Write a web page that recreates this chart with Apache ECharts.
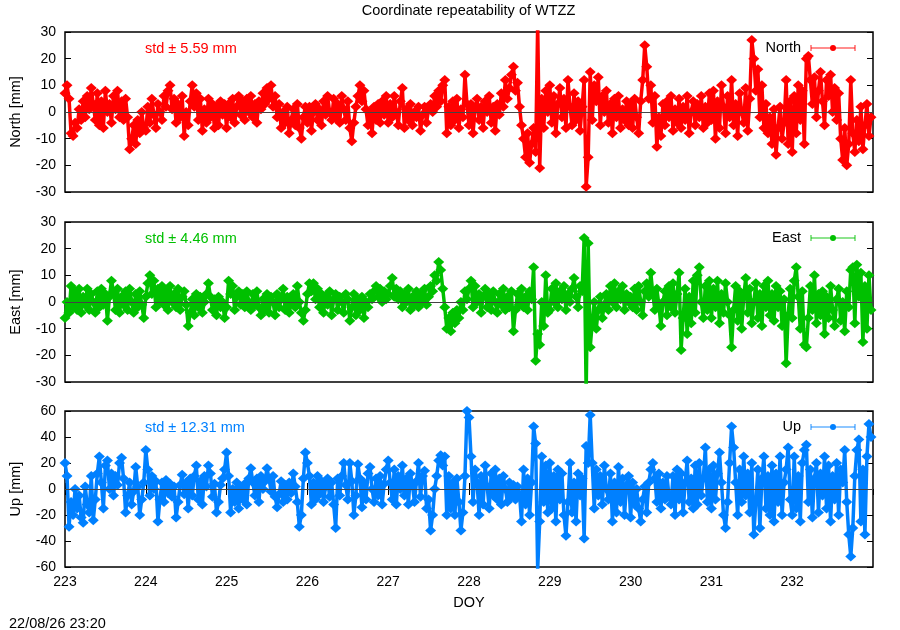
<!DOCTYPE html>
<html>
<head>
<meta charset="utf-8">
<title>Coordinate repeatability of WTZZ</title>
<script src="https://cdn.jsdelivr.net/npm/echarts@6/dist/echarts.min.js"></script>
<style>
  html, body { margin: 0; padding: 0; background: #fff; }
  #chart { width: 900px; height: 630px; }
</style>
</head>
<body>
<div id="chart"></div>
<script>
// Epochs: one value every 0.025 day from DOY 223.0 (40 values per line = one day)
const doyStart = 223;
const doyStep = 0.025;

const north = [
  7, 10, 5, -8, -9, -4, -6, 1, -3, 4, -2, 6, 1, 9, 3, -3, 7, -5, 4, -6, 8, 0, 3, -4, 6, 1, 8, -2, 4, -3, 5, -2, -14, -10, -5, -12, -3, -8, 0, -6,
  -7, 2, -4, 5, -1, -6, 3, 0, -3, 6, 2, 8, 10, 1, 5, -4, 3, -2, 6, -9, 0, -5, 4, 10, 2, 7, -3, 5, -7, 1, -4, 5, -2, 3, -6, 2, -5, 4, -1, 3,
  -6, 3, -2, 5, -4, 2, 6, -1, 4, -3, 5, 0, 6, -2, 3, -4, 4, 1, 7, 3, 9, 5, 10, 2, 6, -2, 3, -6, 0, -4, 2, -8, -3, 1, -5, 3, -6, -10, -2, 2,
  -4, 2, -7, 0, 3, -3, 1, -5, 4, -1, 6, 0, -3, 5, -2, 3, -4, 6, 1, -3, 4, -6, -11, -4, 2, 6, 10, 4, 8, 1, -5, 0, -8, 2, -3, 3, -4, 4, -1, 6,
  -4, 3, -2, 6, 0, -5, 4, 9, -6, 1, -3, 3, -5, 0, -2, 2, -7, -1, 2, -4, 1, 3, 0, 6, 2, 8, 4, 10, 12, -8, 2, -5, 4, -3, 5, -6, 1, -2, 14, 3,
  -5, 3, -8, 1, 5, -3, 2, -6, 4, 0, 6, -4, 2, -7, 3, -1, 7, 2, 12, 5, 9, 14, 17, 8, 11, 2, -5, -10, -17, -8, -19, -12, -6, -15, 33, -21, 5, -6, 8, 0,
  10, -4, 6, -8, 3, 9, -2, 5, -6, 12, 2, -5, 7, -3, 4, -7, 2, 12, -28, -17, 15, -3, 10, 4, 13, -5, 6, 0, 8, -4, 3, -8, 5, -2, 6, -6, 1, -3, 4, -5,
  3, -6, 5, -2, -8, 4, 12, 25, 17, 5, 10, -4, 6, -13, -2, -9, 3, -5, 4, -2, 6, -7, 1, -4, 5, -6, 2, -3, 6, -8, 0, 4, -5, 3, -2, 6, -6, 2, -4, 7,
  -3, 8, -10, 4, -6, 10, 2, -8, 6, -2, 12, -5, 3, -9, 7, 0, -4, 9, -7, 5, 27, 20, 8, 16, -2, 10, -6, 3, -8, -2, -12, 1, -16, -6, 2, -10, -4, 12, -12, 4,
  -15, 6, -8, 10, -3, 8, -12, 20, 21, 12, 3, 13, -2, 8, 15, 4, -5, 12, 6, 14, 0, 9, -3, 7, -10, -18, -6, -20, -12, 12, -8, -15, -3, -11, 2, -14, -5, 3, -9, -2
];

const east = [
  -6, 0, -4, 6, -2, 4, -3, 5, -4, 2, -1, 5, -3, 3, 0, -4, 4, -2, 5, -1, 3, -7, 2, 8, 4, -3, 5, -4, 2, -1, 4, -3, 5, 0, -4, 3, -2, 4, -1, -6,
  2, 7, 10, 3, 8, -2, 5, 0, 6, -1, 4, -3, 6, 0, 3, -2, 5, -3, 2, 4, -1, -9, -4, 1, -5, 3, -2, 2, -4, 0, 3, 7, 2, -3, 1, -5, 2, -2, 0, -6,
  -2, 8, 3, 6, -3, 2, 4, -1, 3, -2, 4, 0, -3, 3, -1, 4, -2, -5, 1, -3, 3, -4, 2, 0, -5, 3, -2, 1, 5, -3, 2, -4, 0, 3, -2, 6, 0, -4, -7, -3,
  3, 7, 4, 7, 1, 5, -2, 3, -4, 2, -1, 4, -5, 1, 3, -3, 2, 0, -4, 3, 1, -7, -2, 3, -5, 1, -3, 2, -6, 0, -2, 3, 1, 4, 6, 2, 5, 0, 4, 1,
  3, 6, 9, 2, 5, 1, 4, -2, 3, 0, 5, -3, 2, -1, 4, -2, 3, 0, 5, -1, 2, 6, 4, 10, 8, 15, 12, 5, -2, -10, -6, -11, -4, -8, -3, -6, 0, -3, 4, 1,
  5, 8, -2, 6, 0, 3, -4, 2, 5, -2, 3, -3, 4, 0, -4, 3, -1, 5, -3, 2, -2, 4, -11, -3, 3, -1, 5, -2, 2, -3, 4, 1, 13, -22, -12, -16, 0, -9, 10, -4,
  -3, 5, 0, 7, -2, 4, 1, 6, -3, 3, 0, 5, 9, 2, -2, 6, 4, 24, -34, 22, -17, -8, 0, -10, -3, 2, -6, -1, 3, -3, 6, 0, 7, -2, 4, 1, 6, -3, 3, 0,
  2, -2, 5, -3, 6, 0, -5, 4, 7, 2, 11, 3, -3, 5, -1, -9, 0, 4, -5, 6, -2, 7, -4, 3, 11, -18, -6, 5, -12, 2, -8, 8, -4, 10, 13, 0, -6, 6, -3, 8,
  -6, 5, -2, 8, -8, 3, -4, 7, 0, -5, -17, -3, 6, -7, 4, -10, 2, 9, -4, 5, -8, 0, 7, -6, 3, -9, 6, -2, 8, -5, 3, -7, 6, -2, 4, -9, 1, -23, -5, 5,
  -6, 8, 13, 2, -10, 4, -16, -17, -6, 6, -3, 10, -8, 3, -5, 4, -12, 2, -6, 6, -3, -9, 1, 5, -7, 0, -11, 4, -2, 12, 13, -8, 14, 2, 11, -15, 6, -10, 10, -3
];

const up = [
  20, 10, -29, -10, -20, 0, -15, -5, -22, -26, 2, -12, -18, 10, -24, -8, 12, 25, 5, -15, 18, 22, 0, 12, -5, 10, 3, 20, 24, 8, -18, -5, 5, -12, -2, 17, 2, -20, -8, 5,
  30, 15, -5, 10, 0, 6, -25, -8, 5, -10, 7, -3, 4, -6, 2, -22, -10, 3, 11, -4, 5, -15, 8, -5, 10, 18, -8, 6, -12, 10, 2, 18, 12, -6, 4, -18, -10, 3, 8, 15,
  28, 10, -18, 0, -10, 5, -15, 2, -8, 4, -12, 8, 16, 5, -5, 8, -10, 10, 0, 6, 16, 8, -2, 10, -6, -14, -4, 6, -10, 3, -8, 5, -3, 12, 2, -10, -29, -20, 8, 28,
  20, 10, -12, 5, -8, 10, -4, 6, -10, 2, 8, -6, 5, -12, -30, 8, -5, 10, 20, 3, -8, 20, 6, -20, -5, 19, 8, -14, 5, -8, 12, 17, 0, -10, 8, -5, 10, -12, 4, 15,
  22, 5, -8, 15, -12, 10, 0, 18, -5, 8, -12, 12, 3, -10, 6, 20, -6, 10, 14, -15, -8, -32, -20, 0, 10, 22, 26, 18, 25, -20, 10, -15, 5, -20, 8, -10, -32, -18, 10, 60,
  55, 25, -10, 15, 5, -20, 10, -12, 18, 2, -15, 12, -5, 15, -8, 8, -12, 10, 0, -10, 5, -6, 3, -8, 2, -4, -25, 15, -12, 8, -20, 5, 48, 35, -62, -25, 25, -10, 18, -18,
  20, -15, 10, -25, 15, -8, 12, -20, -36, -10, 20, -18, 5, -25, 12, -5, 8, -38, 33, 20, 57, 20, -15, 15, -5, 10, -12, 18, 0, -8, 12, -25, 5, -18, 17, -10, 8, -20, 3, 10,
  -22, 5, -12, 0, -15, -25, -8, 2, -18, 5, 15, 20, 8, -10, 12, -15, 5, -8, 10, -5, -12, 10, -20, 15, -8, 12, -18, 5, 22, -10, 8, -15, 18, -12, 20, -5, 8, 32, -10, 15,
  -15, 18, -8, 12, 28, 5, -20, -30, -10, 20, 48, 32, 5, -20, 15, -10, 25, -5, 12, -18, 20, -35, -10, 15, -30, 8, 25, -15, 10, -20, 18, -25, 12, -10, 25, -20, 5, 15, 32, -8,
  -20, 25, -15, 10, -25, 20, 30, 34, -10, 15, -22, 8, 20, -18, 12, -5, 25, -15, 18, -25, 10, -8, 20, -20, 15, 5, 30, -10, -35, -52, -30, 10, 30, 38, -25, 15, -35, 25, 50, 40
];

const stdLabels = ['std \u00b1 5.59 mm', 'std \u00b1 4.46 mm', 'std \u00b1 12.31 mm'];
const seriesNames = ['North', 'East', 'Up'];
const axisNames = ['North [mm]', 'East [mm]', 'Up [mm]'];
const yRanges = [[-30, 30, 10], [-30, 30, 10], [-60, 60, 20]];

const panels = [
  { values: north, color: '#ff0000', top: 32, height: 160 },
  { values: east, color: '#00c000', top: 222, height: 160 },
  { values: up, color: '#0080ff', top: 411, height: 156 }
];

const FONT = '"Liberation Sans", Arial, sans-serif';
const plotLeft = 64;
const plotWidth = 809;

const chart = echarts.init(document.getElementById('chart'), null, { renderer: 'canvas' });

const grids = [];
const xAxes = [];
const yAxes = [];
const series = [];
const graphics = [];

panels.forEach((p, i) => {
  const isLast = i === panels.length - 1;
  grids.push({
    left: plotLeft, top: p.top, width: plotWidth, height: p.height,
    show: true, borderColor: '#000', borderWidth: 1.5, backgroundColor: 'transparent'
  });

  // bottom x axis (labels only on the last panel)
  xAxes.push({
    gridIndex: i, type: 'value', min: 223, max: 233, interval: 1,
    axisLine: { show: false },
    axisTick: { show: isLast, inside: true, length: 6, lineStyle: { color: '#000' } },
    axisLabel: {
      show: isLast, color: '#000', fontSize: 14, fontFamily: FONT, margin: 8,
      showMaxLabel: false
    },
    splitLine: { show: false },
    name: isLast ? 'DOY' : '',
    nameLocation: 'middle', nameGap: 28,
    nameTextStyle: { color: '#000', fontSize: 14.5, fontFamily: FONT }
  });
  if (isLast) {
    // mirrored ticks along the top edge of the Up panel
    xAxes.push({
      gridIndex: i, type: 'value', position: 'top', min: 223, max: 233, interval: 1,
      axisLine: { show: false },
      axisTick: { show: true, inside: true, length: 6, lineStyle: { color: '#000' } },
      axisLabel: { show: false },
      splitLine: { show: false }
    });
  }

  const [ymin, ymax, ystep] = yRanges[i];
  yAxes.push({
    gridIndex: i, type: 'value', min: ymin, max: ymax, interval: ystep,
    axisLine: { show: false },
    axisTick: { show: true, inside: true, length: 6, lineStyle: { color: '#000' } },
    axisLabel: { color: '#000', fontSize: 14, fontFamily: FONT, margin: 9 },
    splitLine: { show: false },
    name: axisNames[i], nameLocation: 'middle', nameGap: 42,
    nameTextStyle: { color: '#000', fontSize: 14.5, fontFamily: FONT }
  });
  yAxes.push({
    gridIndex: i, type: 'value', position: 'right', min: ymin, max: ymax, interval: ystep,
    axisLine: { show: false },
    axisTick: { show: true, inside: true, length: 6, lineStyle: { color: '#000' } },
    axisLabel: { show: false },
    splitLine: { show: false }
  });
});

// bottom x axes are 0,1,2 (3 is the top one) ; left y axes are 0,2,4
const xIdx = [0, 1, 2];
const yIdx = [0, 2, 4];

panels.forEach((p, i) => {
  // reference (model) line around zero
  series.push({
    type: 'line', xAxisIndex: xIdx[i], yAxisIndex: yIdx[i], data: [], z: 1,
    markLine: {
      silent: true, symbol: 'none', label: { show: false },
      lineStyle: { color: '#444', width: 1, type: 'solid' },
      data: [{ yAxis: 0 }]
    }
  });
  series.push({
    name: seriesNames[i],
    type: 'line',
    xAxisIndex: xIdx[i], yAxisIndex: yIdx[i],
    data: p.values.map((v, k) => [doyStart + k * doyStep, v]),
    symbol: 'diamond', symbolSize: [11, 10],
    showSymbol: true,
    clip: true,
    z: 2,
    itemStyle: { color: p.color },
    lineStyle: { color: p.color, width: 3.5, join: 'round' },
    emphasis: { disabled: true },
    animation: false
  });

  const cy = p.top + 16;
  graphics.push({
    type: 'text', x: 145, y: cy + 0.5,
    style: { text: stdLabels[i], font: '14.5px ' + FONT, fill: p.color, align: 'left', verticalAlign: 'middle' }
  });
  graphics.push({
    type: 'text', x: 801, y: cy,
    style: { text: seriesNames[i], font: '14.5px ' + FONT, fill: '#000', align: 'right', verticalAlign: 'middle' }
  });
  const keyStyle = { stroke: p.color, lineWidth: 1.5, opacity: 0.6 };
  graphics.push({ type: 'line', shape: { x1: 811, y1: cy, x2: 855, y2: cy }, style: keyStyle });
  graphics.push({ type: 'line', shape: { x1: 811, y1: cy - 3, x2: 811, y2: cy + 3 }, style: keyStyle });
  graphics.push({ type: 'line', shape: { x1: 855, y1: cy - 3, x2: 855, y2: cy + 3 }, style: keyStyle });
  graphics.push({ type: 'circle', shape: { cx: 833, cy: cy, r: 3 }, style: { fill: p.color } });
});

graphics.push({
  type: 'text', x: 468.5, y: 10.5,
  style: { text: 'Coordinate repeatability of WTZZ', font: '14.5px ' + FONT, fill: '#000', align: 'center', verticalAlign: 'middle' }
});
graphics.push({
  type: 'text', x: 9, y: 623.5,
  style: { text: '22/08/26 23:20', font: '14.5px ' + FONT, fill: '#000', align: 'left', verticalAlign: 'middle' }
});

chart.setOption({
  backgroundColor: '#fff',
  animation: false,
  grid: grids,
  xAxis: xAxes,
  yAxis: yAxes,
  series: series,
  graphic: graphics
});
</script>
</body>
</html>
